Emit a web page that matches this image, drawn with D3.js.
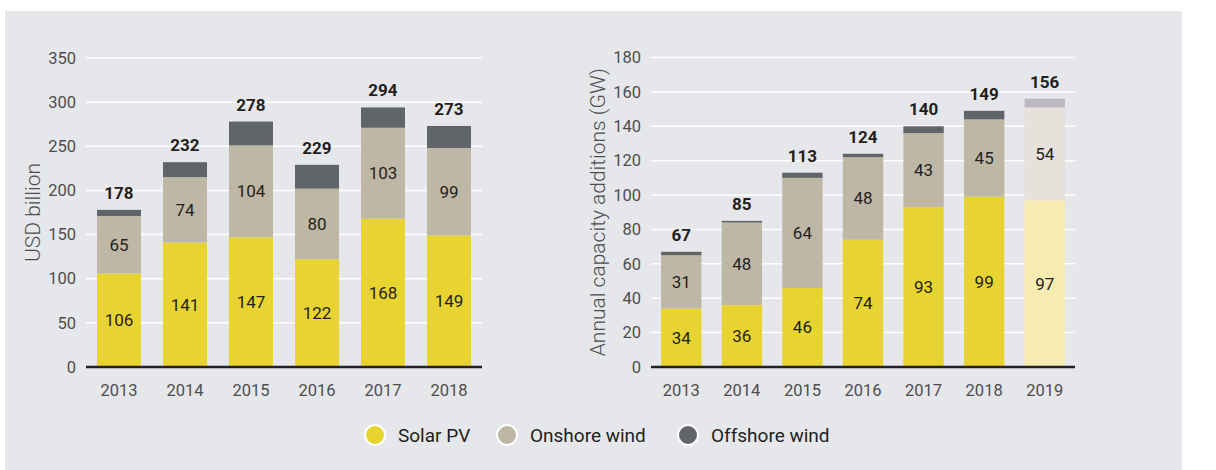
<!DOCTYPE html>
<html lang="en">
<head>
<meta charset="utf-8">
<title>Renewables investment and capacity</title>
<script src="https://d3js.org/d3.v7.min.js"></script>
<style>
body { margin: 0; background: #fff; }
svg { display: block; font-family: Roboto, "Open Sans", sans-serif; }
.grid line { stroke: #fff; stroke-width: 1.5px; }
.tick-label { font-size: 16.5px; fill: #4d4d4f; }
.seg-label { font-size: 17px; fill: #231f20; }
.total-label { font-size: 17px; font-weight: bold; fill: #231f20; }
.axis-title { font-size: 21px; fill: #4d4d4f; font-weight: 300; }
.legend text { font-size: 19px; fill: #231f20; }
</style>
</head>
<body>
<script>

// left panel: investment, USD billion
var usdYears = ["2013", "2014", "2015", "2016", "2017", "2018"];
var usdSolar = [106, 141, 147, 122, 168, 149];
var usdOnshore = [65, 74, 104, 80, 103, 99];
var usdOffshore = [7, 17, 27, 27, 23, 25];
var usdTotal = [178, 232, 278, 229, 294, 273];
var usdTicks = [0, 50, 100, 150, 200, 250, 300, 350];

// right panel: capacity additions, GW (2019 is a forecast -> lighter colours)
var gwYears = ["2013", "2014", "2015", "2016", "2017", "2018", "2019"];
var gwSolar = [34, 36, 46, 74, 93, 99, 97];
var gwOnshore = [31, 48, 64, 48, 43, 45, 54];
var gwOffshore = [2, 1, 3, 2, 4, 5, 5];
var gwTotal = [67, 85, 113, 124, 140, 149, 156];
var gwTicks = [0, 20, 40, 60, 80, 100, 120, 140, 160, 180];

var seriesNames = ["Solar PV", "Onshore wind", "Offshore wind"];
var seriesKeys = ["solar", "onshore", "offshore"];
var colors = { solar: "#e8d431", onshore: "#bfb7a6", offshore: "#626568" };
var lightColors = { solar: "#f6ecb2", onshore: "#e7e1dc", offshore: "#bbb8be" };

var W = 1216, H = 470;

var svg = d3.select("body").append("svg")
    .attr("width", W)
    .attr("height", H);

// grey panel
svg.append("rect")
    .attr("x", 5).attr("y", 11)
    .attr("width", 1177).attr("height", H - 11)
    .attr("fill", "#e6e7ea");

function drawChart(cfg) {
  var rows = cfg.years.map(function(y, i) {
    return { year: y, solar: cfg.solar[i], onshore: cfg.onshore[i], offshore: cfg.offshore[i], total: cfg.total[i] };
  });

  var x = d3.scaleBand()
      .domain(cfg.years)
      .range([cfg.left, cfg.right])
      .paddingInner(1 / 3)
      .paddingOuter(1 / 6);

  var y = d3.scaleLinear()
      .domain([0, d3.max(cfg.ticks)])
      .range([cfg.bottom, cfg.top]);

  var g = svg.append("g");

  // gridlines
  g.append("g").attr("class", "grid")
    .selectAll("line")
    .data(cfg.ticks.filter(function(t) { return t > 0; }))
    .enter().append("line")
      .attr("x1", cfg.left).attr("x2", cfg.right)
      .attr("y1", function(d) { return y(d); })
      .attr("y2", function(d) { return y(d); });

  // y tick labels
  g.selectAll(".ytick")
    .data(cfg.ticks)
    .enter().append("text")
      .attr("class", "tick-label")
      .attr("x", cfg.left - 10)
      .attr("y", function(d) { return y(d); })
      .attr("dy", "0.35em")
      .attr("text-anchor", "end")
      .text(function(d) { return d; });

  var stacked = d3.stack().keys(seriesKeys)(rows);

  stacked.forEach(function(layer) {
    var key = layer.key;
    g.selectAll(".bar-" + key)
      .data(layer)
      .enter().append("rect")
        .attr("x", function(d) { return x(d.data.year); })
        .attr("y", function(d) { return y(d[1]); })
        .attr("width", x.bandwidth())
        .attr("height", function(d) { return y(d[0]) - y(d[1]); })
        .attr("fill", function(d) {
          return d.data.year == cfg.lightYear ? lightColors[key] : colors[key];
        });

    // values inside solar and onshore segments only
    if (key != "offshore") {
      g.selectAll(".lab-" + key)
        .data(layer)
        .enter().append("text")
          .attr("class", "seg-label")
          .attr("x", function(d) { return x(d.data.year) + x.bandwidth() / 2; })
          .attr("y", function(d) { return y((d[0] + d[1]) / 2); })
          .attr("dy", "0.35em")
          .attr("text-anchor", "middle")
          .text(function(d) { return d.data[key]; });
    }
  });

  // totals above bars
  g.selectAll(".total")
    .data(stacked[2])
    .enter().append("text")
      .attr("class", "total-label")
      .attr("x", function(d) { return x(d.data.year) + x.bandwidth() / 2; })
      .attr("y", function(d) { return y(d[1]) - 11; })
      .attr("text-anchor", "middle")
      .text(function(d) { return d.data.total; });

  // baseline
  g.append("line")
    .attr("x1", cfg.left).attr("x2", cfg.right)
    .attr("y1", cfg.bottom).attr("y2", cfg.bottom)
    .attr("stroke", "#231f20")
    .attr("stroke-width", 2.5);

  // x labels
  g.selectAll(".xlab")
    .data(cfg.years)
    .enter().append("text")
      .attr("class", "tick-label")
      .attr("x", function(d) { return x(d) + x.bandwidth() / 2; })
      .attr("y", cfg.bottom + 23)
      .attr("dy", "0.35em")
      .attr("text-anchor", "middle")
      .text(function(d) { return d; });

  // y title
  g.append("text")
    .attr("class", "axis-title")
    .attr("transform", "translate(" + cfg.titleX + "," + ((cfg.top + cfg.bottom) / 2) + ") rotate(-90)")
    .attr("text-anchor", "middle")
    .attr("dy", "0.35em")
    .text(cfg.title);
}

drawChart({
  years: usdYears, solar: usdSolar, onshore: usdOnshore, offshore: usdOffshore, total: usdTotal,
  ticks: usdTicks, left: 86, right: 482, top: 58, bottom: 367,
  title: "USD billion", titleX: 33, lightYear: null
});

drawChart({
  years: gwYears, solar: gwSolar, onshore: gwOnshore, offshore: gwOffshore, total: gwTotal,
  ticks: gwTicks, left: 651, right: 1075, top: 57.5, bottom: 367,
  title: "Annual capacity additions (GW)", titleX: 598, lightYear: "2019"
});

// legend
var legendX = [375, 507, 688];
var legend = svg.append("g").attr("class", "legend")
  .selectAll("g")
  .data(seriesKeys)
  .enter().append("g")
    .attr("transform", function(d, i) { return "translate(" + legendX[i] + ",435)"; });

legend.append("circle")
    .attr("r", 10)
    .attr("fill", function(d) { return colors[d]; })
    .attr("stroke", "#fff")
    .attr("stroke-width", 2);

legend.append("text")
    .attr("x", 23)
    .attr("dy", "0.35em")
    .text(function(d, i) { return seriesNames[i]; });

</script>
</body>
</html>
